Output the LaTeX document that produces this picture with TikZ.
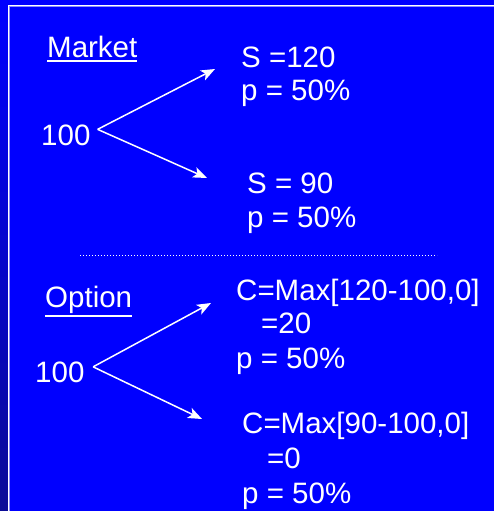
\documentclass[tikz,border=0pt]{standalone}
\usepackage{fontspec}
\setmainfont{Liberation Sans}
\usetikzlibrary{arrows.meta, positioning, calc}

\definecolor{slideblue}{RGB}{0,0,255}
\definecolor{slidenavy}{RGB}{12,12,150}
\definecolor{framelight}{RGB}{140,140,255}
\newcommand\ulword[1]{\leavevmode\vtop{\hbox{#1}\kern1.6pt\hrule height 2.2pt}}

\begin{document}
\begin{tikzpicture}[
    x=1pt, y=-1pt,
    txt/.style={anchor=base west, inner sep=0pt, text=white, font=\fontsize{29.5}{34}\selectfont},
    arr/.style={->, white, line width=1.5pt},
    >={Stealth[length=14pt, width=11pt, inset=3.5pt]}
]
\useasboundingbox (0,0) rectangle (494,511);
\clip (0,0) rectangle (494,511);
% slide background
\fill[slideblue] (0,0) rectangle (494,511);
\shade[top color=slideblue, bottom color=slidenavy] (0,0) rectangle (8,511);
\draw[framelight, line width=1pt] (9.5,6.5) -- (500,6.5);
\draw[framelight, line width=1pt] (9.5,6.5) -- (9.5,520);
\draw[white, line width=1pt] (8.5,5.5) -- (500,5.5);
\draw[white, line width=1pt] (8.5,5.5) -- (8.5,520);

% market tree
\node[txt] (mkt) at (47,58) {\ulword{Market}};
\node[txt] (m0) at (41,145) {100};
\node[txt] (mu1) at (241,67) {S =120};
\node[txt] (mu2) at (241,100) {p = 50\%};
\node[txt] (md1) at (247,193) {S = 90};
\node[txt] (md2) at (247,227) {p = 50\%};
\coordinate (mtipu) at (215,69);
\coordinate (mtipd) at (207,178);
\draw[arr] ([xshift=7pt,yshift=5.5pt]m0.east) -- (mtipu);
\draw[arr] ([xshift=7pt,yshift=5.5pt]m0.east) -- (mtipd);

% separator
\coordinate (sepl) at (80,255.5);
\coordinate (sepr) at (437,255.5);
\draw[white, line width=1pt, dash pattern=on 1pt off 2pt] (sepl) -- (sepr);

% option tree
\node[txt] (opt) at (45,307) {\ulword{Option}};
\node[txt] (o0) at (35,382) {100};
\node[txt] (ou1) at (236,300) {C=Max[120-100,0]};
\node[txt] (ou2) at (261,333) {=20};
\node[txt] (ou3) at (236,368) {p = 50\%};
\node[txt] (od1) at (242,433) {C=Max[90-100,0]};
\node[txt] (od2) at (267,468) {=0};
\node[txt] (od3) at (242,503) {p = 50\%};
\coordinate (otipu) at (211,303);
\coordinate (otipd) at (202,419);
\draw[arr] ([xshift=8.5pt,yshift=5pt]o0.east) -- (otipu);
\draw[arr] ([xshift=8.5pt,yshift=5pt]o0.east) -- (otipd);
\end{tikzpicture}
\end{document}
